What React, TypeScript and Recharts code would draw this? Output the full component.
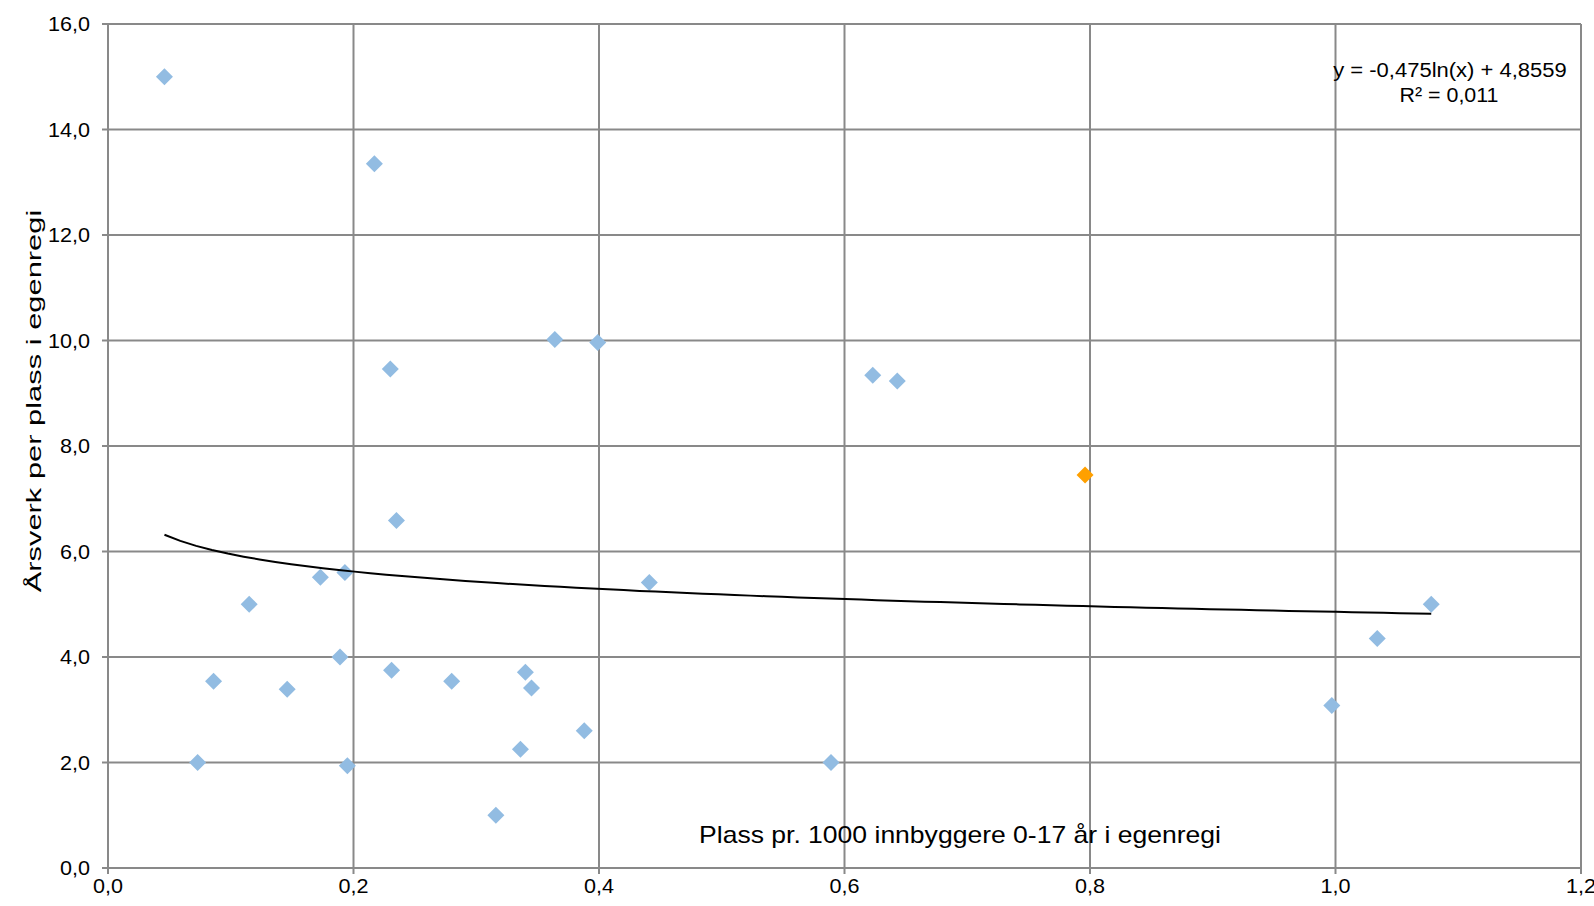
import React from 'react';
import { ScatterChart, Scatter, XAxis, YAxis, CartesianGrid } from 'recharts';

const plassX: number[] = [0.046, 0.217, 0.364, 0.399, 0.230, 0.623, 0.643, 0.235, 0.441, 0.173, 0.193, 0.115, 1.078, 1.034, 0.189, 0.086, 0.146, 0.231, 0.280, 0.340, 0.345, 0.997, 0.388, 0.336, 0.073, 0.195, 0.589, 0.316];
const arsverkY: number[] = [15.0, 13.35, 10.02, 9.96, 9.46, 9.34, 9.23, 6.59, 5.41, 5.51, 5.60, 5.0, 5.0, 4.35, 4.0, 3.54, 3.39, 3.75, 3.54, 3.71, 3.41, 3.08, 2.60, 2.25, 2.0, 1.94, 2.0, 1.0];
const highlightX: number[] = [0.796];
const highlightY: number[] = [7.45];

const trendA = -0.475;
const trendB = 4.8559;
const equationText = 'y = -0,475ln(x) + 4,8559';
const r2Text = 'R² = 0,011';

const xTicks = [0, 0.2, 0.4, 0.6, 0.8, 1.0, 1.2];
const yTicks = [0, 2, 4, 6, 8, 10, 12, 14, 16];
const xTitle = 'Plass pr. 1000 innbyggere 0-17 år i egenregi';
const yTitle = 'Årsverk per plass i egenregi';

const mainData = plassX.map((x, i) => ({ x, y: arsverkY[i] }));
const hiData = highlightX.map((x, i) => ({ x, y: highlightY[i] }));
const allX = plassX.concat(highlightX);
const xMin = Math.min(...allX);
const xMax = Math.max(...allX);
const trendSteps = 80;
const trendData = Array.from({ length: trendSteps + 1 }, (_, i) => {
  const x = xMin + ((xMax - xMin) * i) / trendSteps;
  return { x, y: trendA * Math.log(x) + trendB };
});

const fmt = (v: number) => v.toFixed(1).replace('.', ',');
const FONT = '"Liberation Sans", Arial, sans-serif';
const GRID = '#898989';
const TICK_FS = 20;
const TICK_SX = 1.08;

const diamond = (color: string) => (props: any) => {
  const { cx, cy } = props;
  const r = 8.5;
  return (
    <polygon
      points={`${cx},${cy - r} ${cx + r},${cy} ${cx},${cy + r} ${cx - r},${cy}`}
      fill={color}
    />
  );
};

const XTick = (props: any) => {
  const { x, y, payload } = props;
  return (
    <text
      transform={`translate(${x},${y}) scale(${TICK_SX},1)`}
      textAnchor="middle"
      dy="0.71em"
      fontSize={TICK_FS}
      fontFamily={FONT}
      fill="#000"
    >
      {fmt(payload.value)}
    </text>
  );
};

const YTick = (props: any) => {
  const { x, y, payload } = props;
  return (
    <text
      transform={`translate(${x},${y}) scale(${TICK_SX},1)`}
      textAnchor="end"
      dy="0.355em"
      fontSize={TICK_FS}
      fontFamily={FONT}
      fill="#000"
    >
      {fmt(payload.value)}
    </text>
  );
};

const label = (left: number, top: number, fs: number, sx: number, rot = 0): React.CSSProperties => ({
  position: 'absolute',
  left,
  top,
  transform: `translate(-50%, -50%) rotate(${rot}deg) scale(${sx}, 1)`,
  fontSize: fs,
  whiteSpace: 'nowrap',
  color: '#000',
  lineHeight: 1,
});

export default function App() {
  return (
    <div style={{ position: 'absolute', left: 0, top: 0, width: 1594, height: 906, background: '#fff', fontFamily: FONT }}>
      <ScatterChart width={1594} height={906} margin={{ top: 24, right: 13, bottom: 0, left: 0 }}>
        <CartesianGrid stroke={GRID} strokeWidth={2} />
        <XAxis
          type="number"
          dataKey="x"
          domain={[0, 1.2]}
          ticks={xTicks}
          height={38}
          tickSize={6}
          tickMargin={5}
          axisLine={{ stroke: GRID, strokeWidth: 2 }}
          tickLine={{ stroke: GRID, strokeWidth: 2 }}
          tick={<XTick />}
          allowDataOverflow
        />
        <YAxis
          type="number"
          dataKey="y"
          domain={[0, 16]}
          ticks={yTicks}
          width={108}
          tickSize={6}
          tickMargin={12}
          axisLine={{ stroke: GRID, strokeWidth: 2 }}
          tickLine={{ stroke: GRID, strokeWidth: 2 }}
          tick={<YTick />}
          allowDataOverflow
        />
        <Scatter data={mainData} fill="#92BCE2" shape={diamond('#92BCE2')} isAnimationActive={false} />
        <Scatter data={hiData} fill="#FFA000" shape={diamond('#FFA000')} isAnimationActive={false} />
        <Scatter
          data={trendData}
          line={{ stroke: '#000', strokeWidth: 2 }}
          lineType="joint"
          shape={() => <g />}
          isAnimationActive={false}
        />
      </ScatterChart>
      <div style={label(1450, 70, 20, 1.1)}>{equationText}</div>
      <div style={label(1449, 95, 20, 1.07)}>{r2Text}</div>
      <div style={label(960, 835, 24, 1.105)}>{xTitle}</div>
      <div style={label(33, 401, 21, 1.47, -90)}>{yTitle}</div>
    </div>
  );
}
